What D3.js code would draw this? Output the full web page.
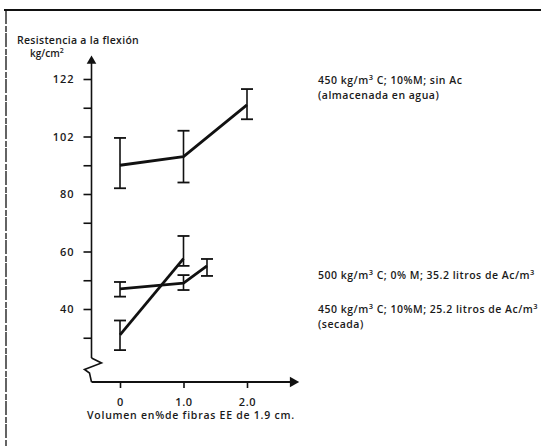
<!DOCTYPE html>
<html>
<head>
<meta charset="utf-8">
<script src="https://cdn.jsdelivr.net/npm/d3@7"></script>
<style>
  html, body { margin: 0; padding: 0; background: #fff; }
  svg text { font-family: "Open Sans", "DejaVu Sans", sans-serif; font-weight: 600; fill: #1a1a1a; }
</style>
</head>
<body>
<svg id="chart" width="541" height="447"></svg>
<script>
// ---- data ----
const yTitle = "Resistencia a la flexión";
const yUnit = "kg/cm";
const xTitle = "Volumen en%de fibras EE de 1.9 cm.";
const xTickValues = [0, 1, 2];
const xTickLabels = ["0", "1.0", "2.0"];
const yTickValues = [30, 40, 50, 60, 70, 80, 90, 100, 110, 120];
const yTickLabels = ["", "40", "", "60", "", "80", "", "102", "", "122"];

// series A: 450 kg/m3 C; 10%M; sin Ac (almacenada en agua)
const aX = [0, 1, 2];
const aMean = [90, 93, 111];
const aLow = [82, 84, 106];
const aHigh = [99.5, 102, 116.5];
// series B: 500 kg/m3 C; 0% M; 35.2 litros de Ac/m3
const bX = [0, 1, 1.37];
const bMean = [47, 49, 55];
const bLow = [44.3, 46.6, 51.5];
const bHigh = [49.4, 51.8, 57.4];
// series C: 450 kg/m3 C; 10%M; 25.2 litros de Ac/m3 (secada)
const cX = [0, 1];
const cMean = [31, 57.5];
const cLow = [25.7, 55];
const cHigh = [36, 65.4];

const seriesLabels = [
  { lines: [["450 kg/m", "3", " C; 10%M; sin Ac"], ["(almacenada en agua)"]], v: 118.3 },
  { lines: [["500 kg/m", "3", " C; 0% M; 35.2 litros de Ac/m", "3"]], v: 50.6 },
  { lines: [["450 kg/m", "3", " C; 10%M; 25.2 litros de Ac/m", "3"], ["(secada)"]], v: 38.6 }
];

// ---- drawing ----
const svg = d3.select("#chart");
const x = d3.scaleLinear().domain([0, 2]).range([120, 247]);
const y = d3.scaleLinear().domain([40, 120]).range([309, 79]);
const ink = "#111";
const fs = "10.5px";

// frame: thick top border, thin dashed left border
svg.append("line").attr("x1", 4).attr("x2", 541).attr("y1", 10).attr("y2", 10)
  .attr("stroke", ink).attr("stroke-width", 2.2);
svg.append("line").attr("x1", 6).attr("x2", 6).attr("y1", 10).attr("y2", 447)
  .attr("stroke", ink).attr("stroke-width", 1.3).attr("stroke-dasharray", "14 2 6 1");

const ax0 = x(0) - 28.5; // y-axis position (left of first category)
const axisY = 382;       // x-axis line position

// y axis
const yAxis = d3.axisLeft(y).tickValues(yTickValues)
  .tickFormat((d, i) => yTickLabels[i]).tickSize(8).tickPadding(9);
const gy = svg.append("g").attr("transform", `translate(${ax0},0)`).call(yAxis);
gy.select(".domain").remove();
gy.selectAll(".tick line").attr("stroke", ink).attr("stroke-width", 1.6);
gy.selectAll(".tick text").style("font-size", "11px").style("letter-spacing", "1px")
  .attr("fill", "#1a1a1a");
svg.append("line").attr("x1", ax0).attr("x2", ax0).attr("y1", 62).attr("y2", 358)
  .attr("stroke", ink).attr("stroke-width", 1.6);
// y arrow
svg.append("path").attr("d", d3.symbol(d3.symbolTriangle, 40)())
  .attr("transform", `translate(${ax0},${61})`).attr("fill", ink);
// axis break zigzag
const brk = [[0, 358], [10, 363], [-7, 369.5], [-2, 373], [0, axisY]];
svg.append("path").attr("d", d3.line().x(d => ax0 + d[0]).y(d => d[1])(brk))
  .attr("fill", "none").attr("stroke", ink).attr("stroke-width", 1.6);

// x axis
const xAxis = d3.axisBottom(x).tickValues(xTickValues)
  .tickFormat((d, i) => xTickLabels[i]).tickSize(6).tickPadding(10);
const gx = svg.append("g").attr("transform", `translate(0,${axisY})`).call(xAxis);
gx.select(".domain").remove();
gx.selectAll(".tick line").attr("stroke", ink).attr("stroke-width", 1.6);
gx.selectAll(".tick text").style("font-size", "11px").style("letter-spacing", "0.6px")
  .attr("fill", "#1a1a1a");
svg.append("line").attr("x1", ax0).attr("x2", 290).attr("y1", axisY).attr("y2", axisY)
  .attr("stroke", ink).attr("stroke-width", 2);
svg.append("path").attr("d", d3.symbol(d3.symbolTriangle, 50)())
  .attr("transform", `translate(293,${axisY}) rotate(90)`).attr("fill", ink);

// titles
svg.append("text").attr("x", 17).attr("y", 44).style("font-size", fs)
  .style("letter-spacing", "0.3px").text(yTitle);
const ut = svg.append("text").attr("x", 30).attr("y", 57).style("font-size", "10px");
ut.append("tspan").text(yUnit);
ut.append("tspan").attr("dy", -4).style("font-size", "7px").text("2");
svg.append("text").attr("x", 87).attr("y", 419).style("font-size", fs)
  .style("letter-spacing", "0.75px").text(xTitle);

// series
function drawSeries(xs, mean, lo, hi) {
  const pts = xs.map((v, i) => ({ x: v, m: mean[i], lo: lo[i], hi: hi[i] }));
  const g = svg.append("g");
  g.append("path").datum(pts)
    .attr("d", d3.line().x(d => x(d.x)).y(d => y(d.m)))
    .attr("fill", "none").attr("stroke", ink).attr("stroke-width", 2.8)
    .attr("stroke-linejoin", "round");
  const eb = g.selectAll(".eb").data(pts).enter().append("g");
  eb.append("line").attr("x1", d => x(d.x)).attr("x2", d => x(d.x))
    .attr("y1", d => y(d.lo)).attr("y2", d => y(d.hi))
    .attr("stroke", ink).attr("stroke-width", 1.6);
  [d => d.lo, d => d.hi].forEach(f => {
    eb.append("line").attr("x1", d => x(d.x) - 6).attr("x2", d => x(d.x) + 6)
      .attr("y1", d => y(f(d))).attr("y2", d => y(f(d)))
      .attr("stroke", ink).attr("stroke-width", 1.8);
  });
}
drawSeries(aX, aMean, aLow, aHigh);
drawSeries(bX, bMean, bLow, bHigh);
drawSeries(cX, cMean, cLow, cHigh);

// series labels
seriesLabels.forEach(s => {
  s.lines.forEach((parts, li) => {
    const t = svg.append("text").attr("x", 318).attr("y", y(s.v) + li * 15)
      .style("font-size", fs).style("letter-spacing", "0.5px");
    parts.forEach((p, pi) => {
      const sup = pi % 2 === 1;
      t.append("tspan").attr("dy", sup ? -4 : (pi > 0 ? 4 : 0))
        .style("font-size", sup ? "7.5px" : fs).text(p);
    });
  });
});
</script>
</body>
</html>
